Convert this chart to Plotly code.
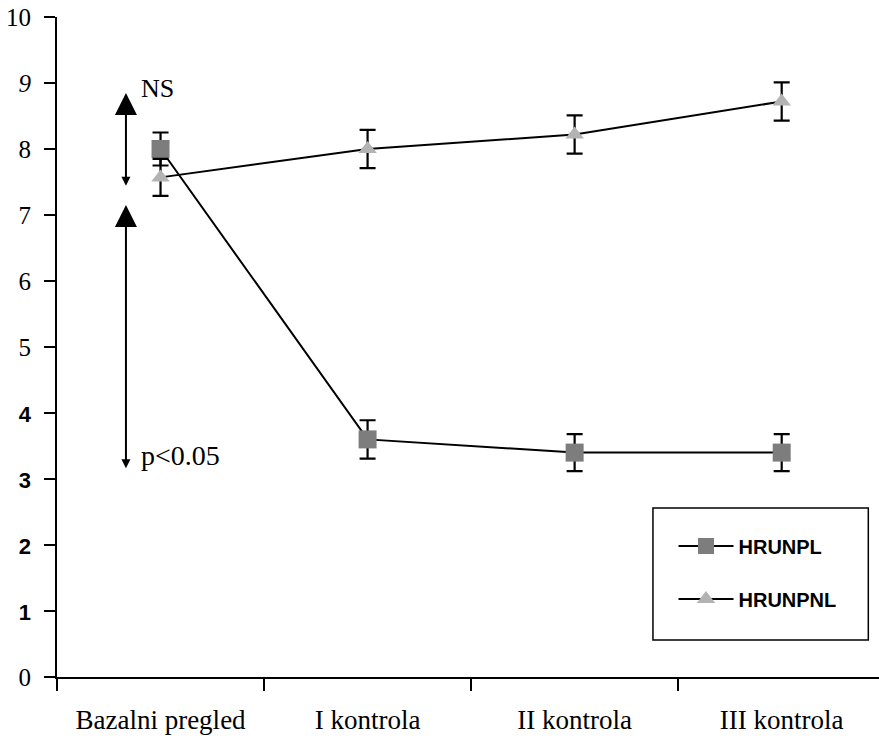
import plotly.graph_objects as go

categories = ["Bazalni pregled", "I kontrola", "II kontrola", "III kontrola"]
hrunpl = [8.0, 3.6, 3.4, 3.4]
hrunpl_err = [0.25, 0.29, 0.28, 0.28]
hrunpnl = [7.57, 8.0, 8.22, 8.72]
hrunpnl_err = [0.28, 0.29, 0.29, 0.29]
y_tick_vals = [0, 1, 2, 3, 4, 5, 6, 7, 8, 9, 10]
y_tick_text = ["0", "<b>1</b>", "<b>2</b>", "<b>3</b>", "<b>4</b>", "5", "6", "7", "8", "<i>9</i>", "10"]

SERIF = "Liberation Serif"
SANS = "Liberation Sans"

def styled(t):
    if t.startswith("<b>"):
        return '<span style="font-family:Liberation Sans;font-size:22px">' + t + "</span>"
    return '<span style="font-family:Liberation Serif">' + t + "</span>"

fig = go.Figure()
fig.add_trace(go.Scatter(
    x=categories, y=hrunpl, name="<b>HRUNPL</b>", mode="lines+markers",
    line=dict(color="black", width=2),
    marker=dict(symbol="square", size=18, color="#7d7d7d"),
    error_y=dict(type="data", array=hrunpl_err, color="black", thickness=2.2, width=8),
    legendgroup="a",
))
fig.add_trace(go.Scatter(
    x=categories, y=hrunpnl, name="<b>HRUNPNL</b>", mode="lines+markers",
    line=dict(color="black", width=2),
    marker=dict(symbol="triangle-up", size=16, color="#b3b3b3"),
    error_y=dict(type="data", array=hrunpnl_err, color="black", thickness=2.2, width=8),
    legendgroup="b",
))

# significance arrows
arrows = [
    dict(y_top=8.85, y_bot=7.42),
    dict(y_top=7.15, y_bot=3.14),
]
for a in arrows:
    fig.add_annotation(x=-0.167, y=a["y_top"], ax=-0.167, ay=a["y_bot"],
                       xref="x", yref="y", axref="x", ayref="y",
                       showarrow=True, arrowhead=2, arrowsize=2.2, arrowwidth=2,
                       arrowside="end+start", startarrowhead=2, startarrowsize=0.9,
                       arrowcolor="black", text="")
fig.add_annotation(x=-0.105, y=8.92, xref="x", yref="y", text="NS", showarrow=False,
                   xanchor="left", font=dict(family=SERIF, size=26, color="black"))
fig.add_annotation(x=-0.105, y=3.35, xref="x", yref="y", text="p<0.05", showarrow=False,
                   xanchor="left", font=dict(family=SERIF, size=28, color="black"))

# legend frame
fig.add_shape(type="rect", xref="paper", yref="paper", x0=0.725, x1=0.987, y0=0.056, y1=0.256,
              line=dict(color="black", width=1.5), fillcolor="white", layer="below")

fig.update_layout(
    width=879, height=740,
    margin=dict(l=57, r=0, t=17, b=63),
    paper_bgcolor="white", plot_bgcolor="white",
    showlegend=True,
    legend=dict(x=0.75, y=0.228, xanchor="left", yanchor="top",
                bgcolor="rgba(0,0,0,0)", borderwidth=0,
                font=dict(family=SANS, size=20, color="black"),
                itemwidth=55,
                tracegroupgap=24, traceorder="grouped"),
    xaxis=dict(type="category", range=[-0.5, 3.47], automargin=False,
               showline=True, linecolor="black", linewidth=2,
               ticks="outside", ticklen=12, tickwidth=2, tickcolor="black",
               tickson="boundaries", showgrid=False, zeroline=False,
               tickfont=dict(family=SERIF, size=27, color="black"),
               ticklabelstandoff=18),
    yaxis=dict(range=[0, 10], tickvals=y_tick_vals, automargin=False,
               ticktext=[styled(t) for t in y_tick_text],
               showline=True, linecolor="black", linewidth=2,
               ticks="outside", ticklen=11, tickwidth=1.5, tickcolor="black",
               ticklabelstandoff=8,
               showgrid=False, zeroline=False,
               tickfont=dict(family=SERIF, size=25, color="black")),
)

fig.write_html("out.html", config={"displayModeBar": False},
               post_script="document.body.style.margin='0';document.body.style.overflow='hidden';")
